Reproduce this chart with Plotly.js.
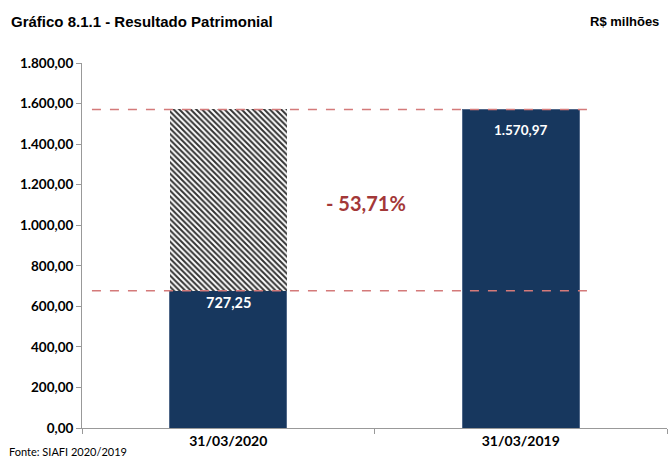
<!DOCTYPE html>
<html>
<head>
<meta charset="utf-8">
<script src="https://cdn.plot.ly/plotly-3.0.1.min.js"></script>
<style>html,body{margin:0;padding:0;background:#fff;}#chart{width:671px;height:459px;}</style>
</head>
<body>
<div id="chart"></div>
<script>
// Data
const categories = ['31/03/2020', '31/03/2019'];
const labelValues = [727.25, 1570.97];          // printed data labels
const barHeights = [677, 1571];                 // drawn bar heights
const hatchHeights = [894, null];               // hatched part stacked on top of 2020 bar
const changeText = '- 53,71%';
const yTickVals = [0, 200, 400, 600, 800, 1000, 1200, 1400, 1600, 1800];

function fmtBR(v) {
  const parts = v.toFixed(2).split('.');
  parts[0] = parts[0].replace(/\B(?=(\d{3})+(?!\d))/g, '.');
  return parts[0] + ',' + parts[1];
}
const yTickText = yTickVals.map(fmtBR);

const fontFam = 'Lato, "Open Sans", sans-serif';
const narrow = '"Liberation Sans Narrow", "Liberation Sans", Arial, sans-serif';

const traces = [
  {
    type: 'bar', x: categories, y: barHeights,
    marker: {color: '#17375e', line: {color: '#4f6788', width: 1}},
    hoverinfo: 'skip', showlegend: false
  },
  {
    type: 'bar', x: categories, y: hatchHeights,
    marker: {color: '#ffffff', line: {width: 0},
      pattern: {shape: '\\', fgcolor: '#333333', bgcolor: '#ffffff', size: 4, solidity: 0.5}},
    hoverinfo: 'skip', showlegend: false
  }
];

const annotations = [
  {xref: 'x', yref: 'y', x: categories[0], y: barHeights[0], yanchor: 'top', yshift: -1,
   text: fmtBR(labelValues[0]), showarrow: false,
   font: {family: fontFam, size: 14.5, color: '#ffffff', weight: 'bold'}},
  {xref: 'x', yref: 'y', x: categories[1], y: barHeights[1], yanchor: 'top', yshift: -11,
   text: fmtBR(labelValues[1]), showarrow: false,
   font: {family: fontFam, size: 13.5, color: '#ffffff', weight: 'bold'}},
  {xref: 'x', yref: 'y', x: 0.47, y: (barHeights[0] + barHeights[1]) / 2 - 15,
   text: changeText, showarrow: false, xanchor: 'center', yanchor: 'middle',
   font: {family: fontFam, size: 20, color: '#a33838', weight: 'bold'}},
  {xref: 'paper', yref: 'paper', x: -0.125, y: 1.115, xanchor: 'left', yanchor: 'middle',
   text: 'Gráfico 8.1.1 - Resultado Patrimonial', showarrow: false,
   font: {family: narrow, size: 15, color: '#000', weight: 'bold'}},
  {xref: 'paper', yref: 'paper', x: 0.99, y: 1.115, xanchor: 'right', yanchor: 'middle',
   text: 'R$ milhões', showarrow: false,
   font: {family: narrow, size: 13, color: '#000', weight: 'bold'}},
  {xref: 'paper', yref: 'paper', x: -0.128, y: -0.065, xanchor: 'left', yanchor: 'middle',
   text: 'Fonte: SIAFI 2020/2019', showarrow: false,
   font: {family: fontFam, size: 11, color: '#000'}}
];

const shapes = barHeights.map(h => ({
  type: 'line', xref: 'x', yref: 'y', x0: -0.466, x1: 1.237, y0: h, y1: h,
  line: {color: '#d47a7a', width: 1.5, dash: 'dash'}
}));

const layout = {
  width: 671, height: 459,
  margin: {l: 82, r: 4, t: 63, b: 31},
  paper_bgcolor: '#ffffff', plot_bgcolor: '#ffffff',
  barmode: 'stack', bargap: 0.6,
  xaxis: {
    type: 'category', range: [-0.5, 1.5], showline: true, linecolor: '#999999', linewidth: 1,
    ticks: 'outside', tickson: 'boundaries', ticklen: 5, tickcolor: '#999999',
    showgrid: false, zeroline: false, fixedrange: true,
    tickfont: {family: fontFam, size: 14, color: '#000', weight: 'bold'}
  },
  yaxis: {
    range: [0, 1800], tickvals: yTickVals, ticktext: yTickText,
    showline: true, linecolor: '#999999', linewidth: 1,
    ticks: 'outside', ticklen: 5, tickcolor: '#999999',
    showgrid: false, zeroline: false, fixedrange: true,
    tickfont: {family: fontFam, size: 13.5, color: '#000', weight: 'bold'}
  },
  annotations: annotations,
  shapes: shapes
};

Plotly.newPlot('chart', traces, layout, {displayModeBar: false, staticPlot: true});
</script>
</body>
</html>
